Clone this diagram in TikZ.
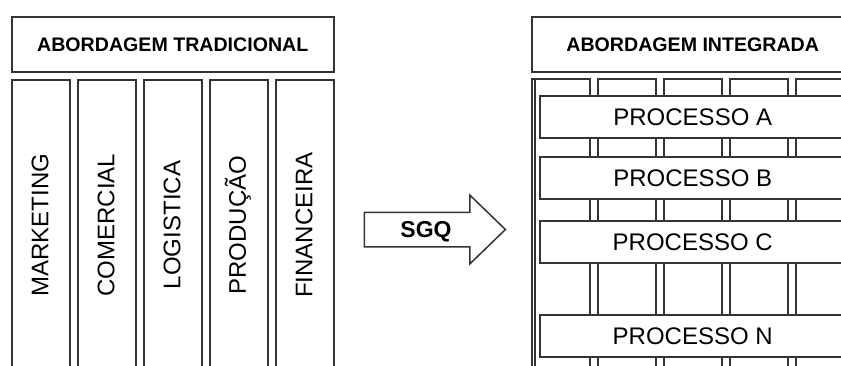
\documentclass[tikz,border=0pt]{standalone}
\usepackage{fontspec}
\setmainfont{Liberation Sans}
\usetikzlibrary{positioning,shapes.arrows}

\begin{document}
\begin{tikzpicture}[x=1pt,y=-1pt,
    linha/.style={draw=black!80, line width=1.5pt},
    titulo/.style={linha, minimum width=322pt, minimum height=55pt, inner sep=0pt,
      anchor=north west, font=\fontsize{19.6}{22}\selectfont\bfseries},
    coluna/.style={linha, minimum width=58pt, minimum height=330pt, inner sep=0pt, anchor=north west},
    setor/.style={rotate=90, inner sep=0pt, font=\fontsize{24}{28}\selectfont},
    processo/.style={linha, fill=white, minimum width=306pt, minimum height=42pt, inner sep=0pt,
      anchor=north west, font=\fontsize{24}{28}\selectfont},
    seta/.style={linha, single arrow, single arrow head extend=17pt, single arrow tip angle=88,
      minimum width=67pt, minimum height=141pt, inner sep=0pt, text height=24.75pt, text depth=8.25pt,
      font=\fontsize{23}{26}\selectfont\bfseries}]
  \path[use as bounding box] (0,0) rectangle (841,365);
  \clip (0,0) rectangle (841,365);

  % abordagem tradicional
  \node[titulo] (tradicional) at (11,16) {ABORDAGEM TRADICIONAL};
  \foreach \lbl [count=\i] in {MARKETING,COMERCIAL,LOGISTICA,PRODUÇÃO,FINANCEIRA} {
    \node[coluna] (colA\i) at ({11+66*(\i-1)},79) {};
    \node[setor] (setorA\i) at ({40+66*(\i-1)},225) {\lbl};
  }

  % SGQ
  \node[seta] (sgq) at (426,229.5) {SGQ};

  % abordagem integrada
  \node[titulo] (integrada) at (531,16) {ABORDAGEM INTEGRADA};
  \foreach \i in {1,...,5}
    \node[coluna] (colB\i) at ({531+66*(\i-1)},78) {};
  \draw[linha] ([xshift=4pt]colB1.north west) -- ([xshift=4pt]colB1.south west);
  \node[processo] (procA) at (539,95) {PROCESSO A};
  \node[processo] (procB) at (539,156) {PROCESSO B};
  \node[processo] (procC) at (539,220) {PROCESSO C};
  \node[processo] (procN) at (539,314) {PROCESSO N};
\end{tikzpicture}
\end{document}
